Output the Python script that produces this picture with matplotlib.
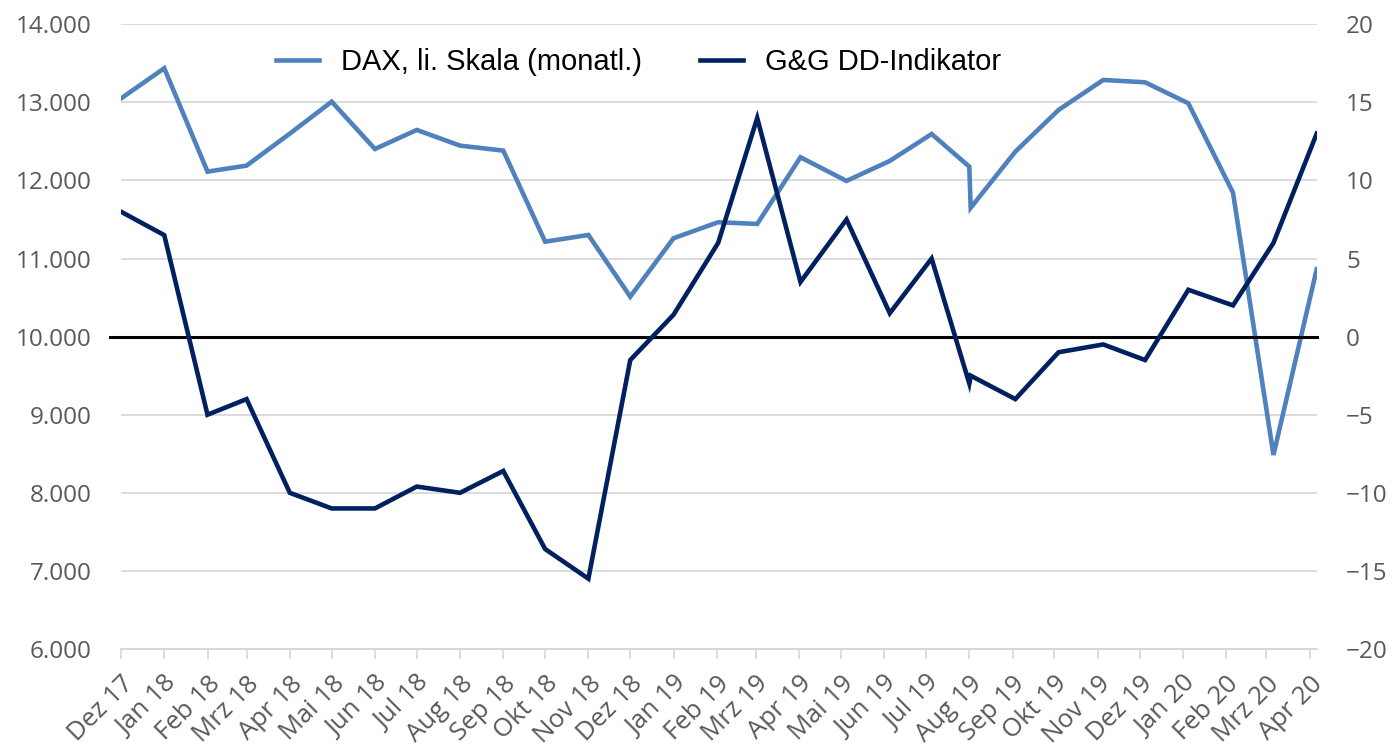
import pandas as pd
import matplotlib

matplotlib.use("Agg")
import matplotlib.pyplot as plt
from matplotlib.ticker import FuncFormatter

# Data
dates = [
    "2017-12-01", "2018-01-01", "2018-02-01", "2018-03-01", "2018-04-01",
    "2018-05-01", "2018-06-01", "2018-07-01", "2018-08-01", "2018-09-01",
    "2018-10-01", "2018-11-01", "2018-12-01", "2019-01-01", "2019-02-02",
    "2019-03-02", "2019-04-02", "2019-05-05", "2019-06-05", "2019-07-05",
    "2019-08-01", "2019-08-02", "2019-09-03", "2019-10-04", "2019-11-05",
    "2019-12-05", "2020-01-05", "2020-02-06", "2020-03-06", "2020-04-06",
]
dax = [
    13050, 13437, 12113, 12190, 12600, 13009, 12403, 12647, 12446, 12382,
    11216, 11302, 10512, 11260, 11465, 11443, 12297, 11994, 12250, 12595,
    12177, 11650, 12369, 12903, 13287, 13257, 12988, 11844, 8485, 10863,
]
dd_indikator = [
    8.0, 6.5, -5.0, -4.0, -10.0, -11.0, -11.0, -9.6, -10.0, -8.6,
    -13.6, -15.5, -1.5, 1.4, 6.0, 14.0, 3.5, 7.5, 1.5, 5.0,
    -3.0, -2.5, -4.0, -1.0, -0.5, -1.5, 3.0, 2.0, 6.0, 13.0,
]
tick_dates = pd.date_range("2017-12-01", "2020-04-01", freq="MS")
tick_labels = [
    "Dez 17", "Jan 18", "Feb 18", "Mrz 18", "Apr 18", "Mai 18", "Jun 18",
    "Jul 18", "Aug 18", "Sep 18", "Okt 18", "Nov 18", "Dez 18", "Jan 19",
    "Feb 19", "Mrz 19", "Apr 19", "Mai 19", "Jun 19", "Jul 19", "Aug 19",
    "Sep 19", "Okt 19", "Nov 19", "Dez 19", "Jan 20", "Feb 20", "Mrz 20",
    "Apr 20",
]

x = pd.to_datetime(dates)
grey = "#595959"
grid_col = "#d9d9d9"
tick_font = "Open Sans"
tick_size = 17.5

fig = plt.figure(figsize=(13.94, 7.47), dpi=100)
ax = fig.add_axes([0.0868, 0.1312, 0.8580, 0.8363])
ax2 = ax.twinx()

# left axis: DAX
ax.set_ylim(6000, 14000)
ax.set_yticks(range(6000, 14001, 1000))
ax.yaxis.set_major_formatter(FuncFormatter(lambda v, p: f"{int(v):,}".replace(",", ".")))
ax.grid(axis="y", color=grid_col, linewidth=1.3)
ax.set_axisbelow(True)
ax.plot(x, dax, color="#4f81bd", linewidth=3.3, solid_joinstyle="miter",
        label="DAX, li. Skala (monatl.)")

# right axis: indicator
ax2.set_ylim(-20, 20)
ax2.set_yticks(range(-20, 21, 5))
ax2.axhline(0, xmin=-0.009, xmax=1, color="black", linewidth=2.2, clip_on=False)
ax2.plot(x, dd_indikator, color="#002060", linewidth=3.3, solid_joinstyle="miter",
         label="G&G DD-Indikator")

ax.set_xlim(pd.Timestamp("2017-12-01"), x[-1] + pd.Timedelta(hours=6))
ax.set_xticks(tick_dates)
ax.set_xticklabels(tick_labels, rotation=45, ha="right", va="top",
                   rotation_mode="anchor", fontsize=18.5, color=grey,
                   family=tick_font)

for a in (ax, ax2):
    for s in ("top", "left", "right"):
        a.spines[s].set_visible(False)
    a.spines["bottom"].set_color(grid_col)
    a.spines["bottom"].set_linewidth(1.3)

ax.tick_params(axis="x", direction="out", length=7, width=1.3, color=grid_col, pad=9)
ax.tick_params(axis="y", length=0, pad=21, labelsize=tick_size, labelcolor=grey)
ax2.tick_params(axis="y", length=0, pad=21, labelsize=tick_size, labelcolor=grey)
for lab in ax.get_yticklabels() + ax2.get_yticklabels():
    lab.set_family(tick_font)

h1, l1 = ax.get_legend_handles_labels()
h2, l2 = ax2.get_legend_handles_labels()
ax2.legend(h1 + h2, l1 + l2, loc="center", bbox_to_anchor=(0.433, 0.939),
           ncol=2, frameon=False, prop={"family": "Liberation Sans", "size": 21},
           handlelength=1.47, handletextpad=0.75, columnspacing=2.0)

fig.savefig("out.png", dpi=100)
